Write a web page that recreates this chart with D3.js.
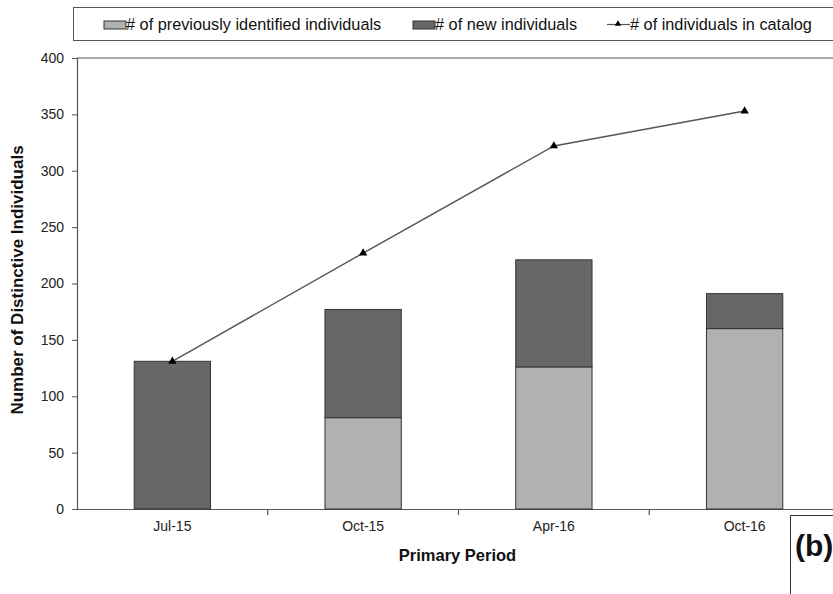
<!DOCTYPE html>
<html>
<head>
<meta charset="utf-8">
<script src="https://cdn.jsdelivr.net/npm/d3@7"></script>
<style>
  html, body { margin: 0; padding: 0; background: #fff; }
  svg { display: block; font-family: "Liberation Sans", Arial, sans-serif; }
  .tick text { font-family: "Liberation Sans", Arial, sans-serif; font-size: 14px; fill: #222; }
  .legend { font-size: 16.3px; fill: #111; }
</style>
</head>
<body>
<div id="chart"></div>
<script>
/* Stacked bars of previously identified / new individuals, with catalog total line. */

var periods = ["Jul-15", "Oct-15", "Apr-16", "Oct-16"];
var previous = [0, 81, 126, 160];
var newIndiv = [131, 96, 95, 31];
var catalog = [131, 227, 322, 353];
var yTicks = [0, 50, 100, 150, 200, 250, 300, 350, 400];

var width = 833, height = 594;
var margin = { top: 58, right: -7, bottom: 85, left: 77 };
var innerW = width - margin.left - margin.right;
var innerH = height - margin.top - margin.bottom;

var cLight = "#b1b1b1", cDark = "#676767", cEdge = "#333", cAxis = "#555";

var svg = d3.select("#chart").append("svg")
  .attr("width", width).attr("height", height);

var g = svg.append("g").attr("transform", "translate(" + margin.left + "," + margin.top + ")");

var x = d3.scaleBand().domain(periods).range([0, innerW]).paddingInner(0.6).paddingOuter(0.3);
var y = d3.scaleLinear().domain([0, 400]).range([innerH, 0]);

/* plot frame top line */
g.append("line").attr("x1", 0).attr("x2", innerW).attr("y1", 0).attr("y2", 0)
  .attr("stroke", cAxis).attr("stroke-width", 1.2);

/* y axis */
var ya = g.append("g").call(d3.axisLeft(y).tickValues(yTicks).tickSize(5).tickPadding(8));
ya.select(".domain").attr("stroke", cAxis).attr("stroke-width", 1.2);
ya.selectAll(".tick line").attr("stroke", cAxis);

/* x axis: labels at band centres, ticks between bands */
var xa = g.append("g").attr("transform", "translate(0," + innerH + ")")
  .call(d3.axisBottom(x).tickSize(0).tickPadding(12));
xa.select(".domain").attr("stroke", cAxis).attr("stroke-width", 1.2);
var step = x.step();
var tickX = d3.range(1, periods.length).map(function (i) { return i * step; });
xa.selectAll(".sep").data(tickX).enter().append("line")
  .attr("x1", function (d) { return d; }).attr("x2", function (d) { return d; })
  .attr("y1", 0).attr("y2", 6).attr("stroke", cAxis).attr("stroke-width", 1.2);

/* stacked bars */
periods.forEach(function (p, i) {
  if (previous[i] > 0) {
    g.append("rect")
      .attr("x", x(p)).attr("y", y(previous[i]))
      .attr("width", x.bandwidth()).attr("height", innerH - y(previous[i]))
      .attr("fill", cLight).attr("stroke", cEdge).attr("stroke-width", 1);
  }
  var top = previous[i] + newIndiv[i];
  g.append("rect")
    .attr("x", x(p)).attr("y", y(top))
    .attr("width", x.bandwidth()).attr("height", y(previous[i]) - y(top))
    .attr("fill", cDark).attr("stroke", cEdge).attr("stroke-width", 1);
});

/* catalog line */
var line = d3.line()
  .x(function (d, i) { return x(periods[i]) + x.bandwidth() / 2; })
  .y(function (d) { return y(d); });
g.append("path").datum(catalog).attr("d", line)
  .attr("fill", "none").attr("stroke", "#555").attr("stroke-width", 1.4);
var tri = d3.symbol().type(d3.symbolTriangle).size(30);
g.selectAll(".mk").data(catalog).enter().append("path")
  .attr("d", tri)
  .attr("transform", function (d, i) {
    return "translate(" + (x(periods[i]) + x.bandwidth() / 2) + "," + y(d) + ")";
  })
  .attr("fill", "#000");

/* axis titles */
svg.append("text")
  .attr("transform", "translate(23,280) rotate(-90)")
  .attr("text-anchor", "middle").attr("font-size", 17).attr("font-weight", "bold")
  .attr("fill", "#111").text("Number of Distinctive Individuals");
svg.append("text")
  .attr("x", 457.5).attr("y", 561).attr("text-anchor", "middle")
  .attr("font-size", 16.5).attr("font-weight", "bold").attr("fill", "#111")
  .text("Primary Period");

/* legend */
var lg = svg.append("g");
lg.append("rect").attr("x", 73.5).attr("y", 7.5).attr("width", 780).attr("height", 33)
  .attr("fill", "#fff").attr("stroke", cAxis).attr("stroke-width", 1);
lg.append("rect").attr("x", 104).attr("y", 21).attr("width", 22).attr("height", 8)
  .attr("fill", cLight).attr("stroke", cEdge);
lg.append("text").attr("class", "legend").attr("x", 126).attr("y", 30)
  .text("# of previously identified individuals");
lg.append("rect").attr("x", 413).attr("y", 21).attr("width", 22).attr("height", 8)
  .attr("fill", cDark).attr("stroke", cEdge);
lg.append("text").attr("class", "legend").attr("x", 435).attr("y", 30)
  .text("# of new individuals");
lg.append("line").attr("x1", 607).attr("x2", 630).attr("y1", 24.5).attr("y2", 24.5)
  .attr("stroke", "#555").attr("stroke-width", 1.2);
lg.append("path").attr("d", d3.symbol().type(d3.symbolTriangle).size(18))
  .attr("transform", "translate(618,24)").attr("fill", "#000");
lg.append("text").attr("class", "legend").attr("x", 630).attr("y", 30)
  .text("# of individuals in catalog");

/* panel tag */
svg.append("rect").attr("x", 790.5).attr("y", 515.5).attr("width", 60).attr("height", 90)
  .attr("fill", "#fff").attr("stroke", "#333").attr("stroke-width", 1);
svg.append("text").attr("x", 795).attr("y", 556)
  .attr("font-size", 30).attr("font-weight", "bold").attr("fill", "#111").text("(b)");
</script>
</body>
</html>
